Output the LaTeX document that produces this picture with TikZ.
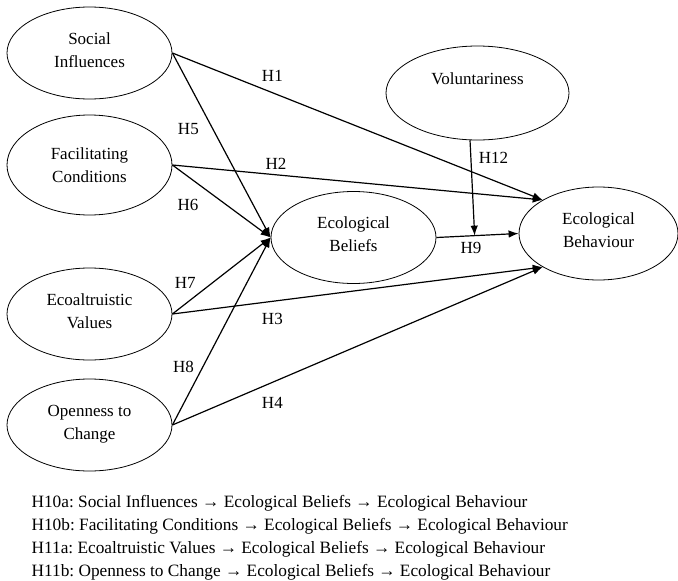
\documentclass[tikz,border=0pt]{standalone}
\usepackage{fontspec}
\setmainfont{Liberation Serif}
\frenchspacing
\usetikzlibrary{shapes,arrows,arrows.meta,positioning,calc}

\begin{document}
\begin{tikzpicture}[->,>={Latex[length=10pt,width=7.5pt]},x=1pt,y=-1pt,line width=1.2pt]

		% Styles for the constructs
		\tikzstyle{construct}=[ellipse,draw,line width=0.8pt,minimum width=165pt,minimum height=92pt,align=center,text depth=6.5pt,font=\fontsize{17}{23}\selectfont]
		\tikzstyle{hyp}=[font=\fontsize{17}{20}\selectfont,inner sep=3.3pt]

		\useasboundingbox (0,0) rectangle (678,581);

		% Nodes for the model
		\node[construct] (si) at (89.5,53) {Social\\Influences};
		\node[construct,minimum height=100pt,text depth=0pt] (fc) at (89.5,165) {Facilitating\\Conditions};
		\node[construct] (ev) at (89.5,314) {Ecoaltruistic\\Values};
		\node[construct,text depth=6pt] (oc) at (89.5,425) {Openness to\\Change};
		\node[construct] (ebel) at (353.5,237.5) {Ecological\\Beliefs};
		\node[construct,minimum width=183pt,minimum height=94pt,text height=12pt,text depth=30pt] (vol) at (477.5,93) {Voluntariness};
		\node[construct,minimum width=159pt,minimum height=93pt] (eb) at (598.5,233.5) {Ecological\\Behaviour};

		% Moderation point on H9
		\coordinate (h9) at ($(ebel.east)!(vol.261)!(eb.west)$);

		% Paths
		\path
		% Direct effects on behaviour
		(si.east) edge node[hyp,pos=0.27,above=7pt] {H1} (eb.149)
		(fc.east) edge node[hyp,pos=0.28,above=1pt] {H2} (eb.149)
		(ev.east) edge node[hyp,pos=0.27,below=8pt] {H3} (eb.211)
		(oc.east) edge node[hyp,pos=0.27,below=11pt] {H4} (eb.211)

		% Effects on beliefs
		(si.east) edge node[hyp,pos=0.41,left=10pt] {H5} (ebel.west)
		(fc.east) edge node[hyp,pos=0.16,below=19pt] {H6} (ebel.west)
		(ev.east) edge node[hyp,pos=0.13,above=12pt] {H7} (ebel.west)
		(oc.east) edge node[hyp,pos=0.31,left=5pt] {H8} (ebel.west)

		% Beliefs to behaviour, moderated by voluntariness
		(ebel.east) edge node[hyp,pos=0.42,below=3pt] {H9} (eb.west)
		(vol.261) edge node[hyp,pos=0.18,right=4pt] {H12} (h9);

		% Indirect effects
		\node[anchor=north west,align=left,inner sep=0pt,font=\fontsize{17.3}{23}\selectfont] (notes) at (31,495)
		{H10a: Social Influences → Ecological Beliefs → Ecological Behaviour\\
		H10b: Facilitating Conditions → Ecological Beliefs → Ecological Behaviour\\
		H11a: Ecoaltruistic Values → Ecological Beliefs → Ecological Behaviour\\
		H11b: Openness to Change → Ecological Beliefs → Ecological Behaviour};

	\end{tikzpicture}
\end{document}
